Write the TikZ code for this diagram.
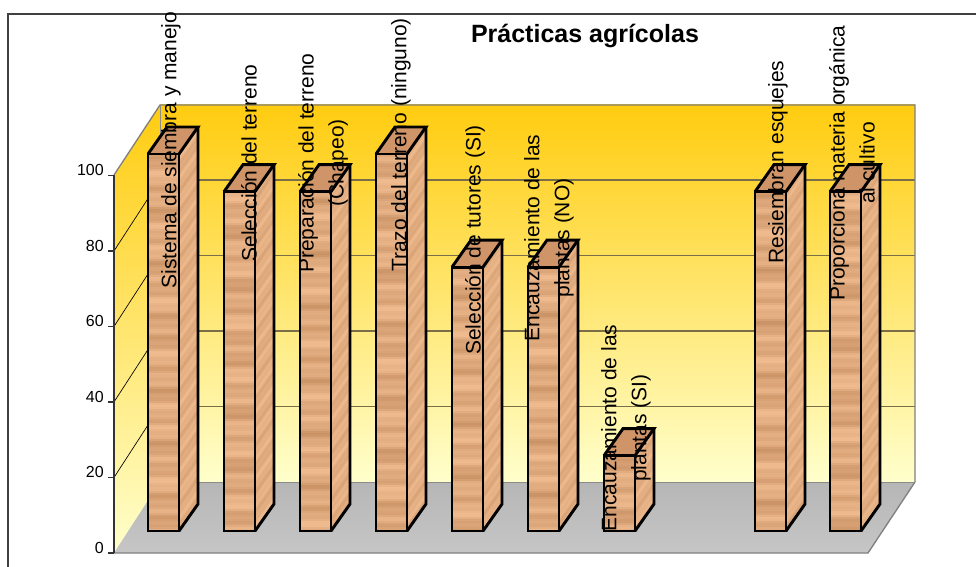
\documentclass[tikz,border=0pt]{standalone}
\usepackage{fontspec}
\setmainfont{Liberation Sans}
\usetikzlibrary{positioning,calc}

\definecolor{wallTop}{HTML}{FFCC10}
\definecolor{wallMid}{HTML}{FFE384}
\definecolor{wallBot}{HTML}{FFFFCC}
\definecolor{floorBack}{HTML}{B6B6B6}
\definecolor{floorMid}{HTML}{A3A3A3}
\definecolor{floorFront}{HTML}{C6C6C6}
\definecolor{woodLight}{HTML}{EEBA8E}
\definecolor{woodDark}{HTML}{A46A3C}
\definecolor{woodTop}{HTML}{CF9568}
\definecolor{gridCol}{HTML}{7A6E48}

\begin{document}
\begin{tikzpicture}[x=0.75pt,y=-0.75pt,
	barline/.style={draw=black, line width=2.2pt},
	wallline/.style={draw=black!50, line width=1pt},
	barlabel/.style={rotate=90, align=center, inner sep=0pt, font=\fontsize{15.75}{22.5}\selectfont},
	ylabel/.style={anchor=base east, inner sep=0pt, font=\fontsize{12}{14}\selectfont}]
	\useasboundingbox (0,0) rectangle (976,567);
	\fill[white] (0,0) rectangle (976,567);
	\draw[line width=1.2pt, black!75] (8,567) -- (8,14) -- (976,14);

	\shade[top color=wallTop, middle color=wallMid, bottom color=wallBot] (160,105) rectangle (915,482);
	\shade[top color=wallTop, middle color=wallMid, bottom color=wallBot] (114,175) -- (160,105) -- (160,482) -- (114,553) -- cycle;
	\shade[top color=floorBack, middle color=floorMid, bottom color=floorFront] (114,553) -- (160,482) -- (915,482) -- (868,553) -- cycle;
	\foreach \k in {1,...,4} {
		\draw[gridCol, line width=0.9pt] (160,{482-75.5*\k}) -- (915,{482-75.5*\k});
		\draw[black, line width=0.5pt] (114,{553-75.5*\k}) -- (160,{482-75.5*\k});
	}
	\draw[wallline] (114,175) -- (160,105) -- (915,105) -- (915,482) -- (868,553) -- (114,553);
	\draw[draw=black!45, line width=0.6pt] (160,105) -- (160,482) -- (915,482);
	\draw[draw=black!80, line width=0.8pt] (114,175) -- (114,553);
	\foreach \v in {0,20,...,100} {
		\draw[draw=black!80, line width=0.8pt] (108,{553-3.775*\v}) -- (114,{553-3.775*\v});
		\node[ylabel] (y\v) at (104,{553-3.775*\v}) {\v};
	}

	\foreach \bx/\bv in {148/100, 224/90, 300/90, 376/100, 452/70, 528/70, 604/20, 755/90, 830/90} {
		\pgfmathsetmacro\bt{531-3.77*\bv}
		\begin{scope}
			\clip (\bx,531) rectangle (\bx+31,\bt);
			\foreach \sy in {531,529,...,\bt} {
				\pgfmathsetmacro\sh{int(min(100,max(0,80+13*sin(mod(\sy,180)*14+\bx)+9*sin(mod(\sy,180)*34+2*\bx)+8*sin(mod(\sy,180)*6+3*\bx))))}
				\fill[woodLight!\sh!woodDark] (\bx,\sy+0.3) rectangle (\bx+31,\sy-2.3);
			}
		\end{scope}
		\begin{scope}
			\clip (\bx+31,531) -- (\bx+31,\bt) -- (\bx+50,\bt-27) -- (\bx+50,504) -- cycle;
			\foreach \sy in {531,529,...,\bt} {
				\pgfmathsetmacro\sh{int(min(100,max(0,86+9*sin(mod(\sy,180)*16+3*\bx)+7*sin(mod(\sy,180)*38+\bx))))}
				\fill[woodLight!\sh!woodDark] (\bx+31,\sy+0.3) -- (\bx+50,\sy-26.7) -- (\bx+50,\sy-29.3) -- (\bx+31,\sy-2.3) -- cycle;
			}
		\end{scope}
		\fill[woodTop] (\bx,\bt) -- (\bx+31,\bt) -- (\bx+50,\bt-27) -- (\bx+19,\bt-27) -- cycle;
		\draw[barline] (\bx,531) rectangle (\bx+31,\bt);
		\draw[barline] (\bx+31,531) -- (\bx+50,504) -- (\bx+50,\bt-27);
		\draw[barline] (\bx,\bt) -- (\bx+19,\bt-27) -- (\bx+50,\bt-27) -- (\bx+31,\bt);
	}

	\node[anchor=base, inner sep=0pt, font=\fontsize{18.75}{22}\selectfont\bfseries] (title) at (585,43) {Prácticas agrícolas};
	\node[barlabel] (l1) at (171,150) {Sistema de siembra y manejo};
	\node[barlabel] (l2) at (249,163) {Selección del terreno};
	\node[barlabel] (l3) at (323,163) {Preparación del terreno\\(Chapeo)};
	\node[barlabel] (l4) at (401,145) {Trazo del terreno (ninguno)};
	\node[barlabel] (l5) at (475,240) {Selección de tutores (SI)};
	\node[barlabel] (l6) at (549,238) {Encauzamiento de las\\plantas (NO)};
	\node[barlabel] (l7) at (626,428) {Encauzamiento de las\\plantas (SI)};
	\node[barlabel] (l8) at (778,162) {Resiembran esquejes};
	\node[barlabel] (l9) at (852,163) {Proporciona materia orgánica\\al cultivo};
\end{tikzpicture}
\end{document}
